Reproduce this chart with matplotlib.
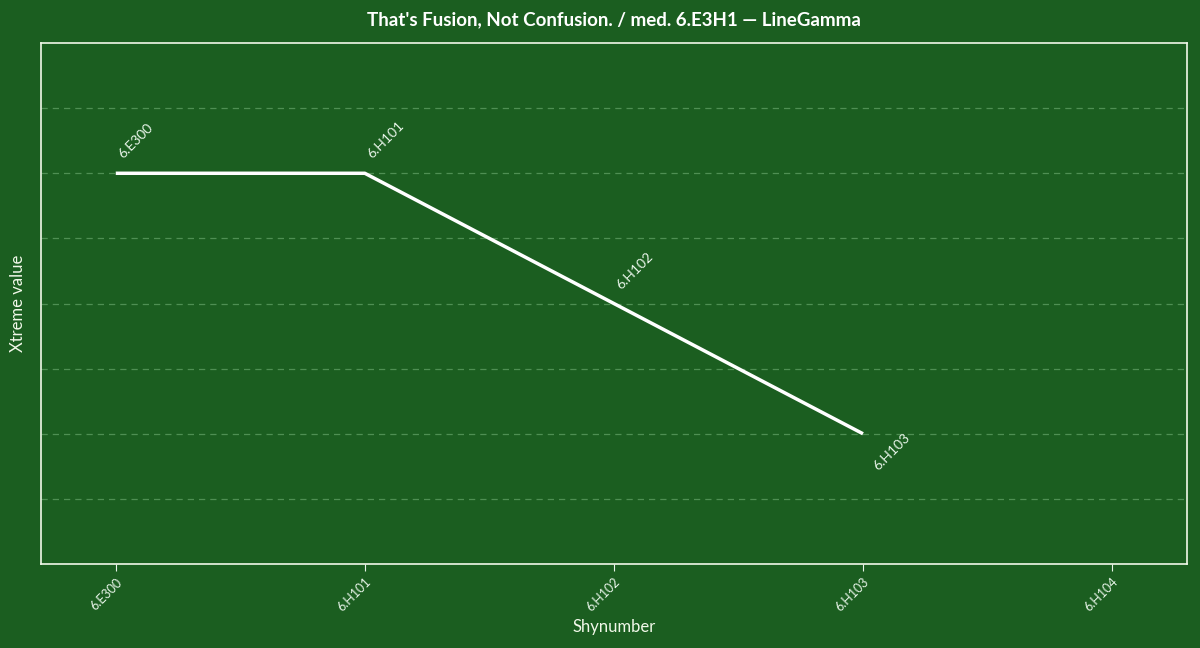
import matplotlib.pyplot as plt

# data
categories = ['6.E300', '6.H101', '6.H102', '6.H103', '6.H104']
line_labels = ['6.E300', '6.H101', '6.H102', '6.H103']
values = [3, 3, 2, 1]

bg = '#1b5e20'
plt.rcParams['font.family'] = ['Lato', 'DejaVu Sans']

fig = plt.figure(figsize=(12, 6.48), dpi=100, facecolor=bg)
ax = fig.add_axes([0.0342, 0.1296, 0.9548, 0.804])
ax.set_facecolor(bg)

xs = list(range(len(line_labels)))
ax.plot(xs, values, color='white', lw=2.5, solid_capstyle='butt', zorder=3)

for i, (lab, v) in enumerate(zip(line_labels, values)):
    if i == len(line_labels) - 1:
        # last point gets its label underneath
        ax.annotate(lab, (i, v), xytext=(6, 2), textcoords='offset points',
                    rotation=45, ha='left', va='top', color='#e8f5e9', fontsize=10)
    else:
        ax.annotate(lab, (i, v), xytext=(0, 9), textcoords='offset points',
                    rotation=45, ha='left', va='bottom', color='#e8f5e9', fontsize=10)

ax.set_xlim(-0.3, 4.3)
ax.set_ylim(0, 4)
ax.set_xticks(range(len(categories)))
ax.set_xticklabels(categories, rotation=45, ha='right', rotation_mode='anchor',
                   color='#e8f5e9', fontsize=9)
ax.set_yticks([0.5, 1, 1.5, 2, 2.5, 3, 3.5])
ax.set_yticklabels([])
ax.tick_params(axis='y', length=0)
ax.tick_params(axis='x', colors='#e8f5e9', length=5)
ax.grid(axis='y', color='#4f8f53', ls='--', lw=0.9, dashes=(5, 4))
ax.set_axisbelow(True)
for s in ax.spines.values():
    s.set_color('#f1f8e9')
    s.set_linewidth(1.2)

ax.set_xlabel('Shynumber', color='#f1f8e9', fontsize=12, labelpad=4)
ax.set_ylabel('Xtreme value', color='#f1f8e9', fontsize=12, labelpad=7)
ax.set_title("That's Fusion, Not Confusion. / med. 6.E3H1 \u2014 LineGamma",
             color='white', fontsize=13.5, fontweight='bold', pad=13)

fig.savefig('out.png', dpi=100, facecolor=bg)
